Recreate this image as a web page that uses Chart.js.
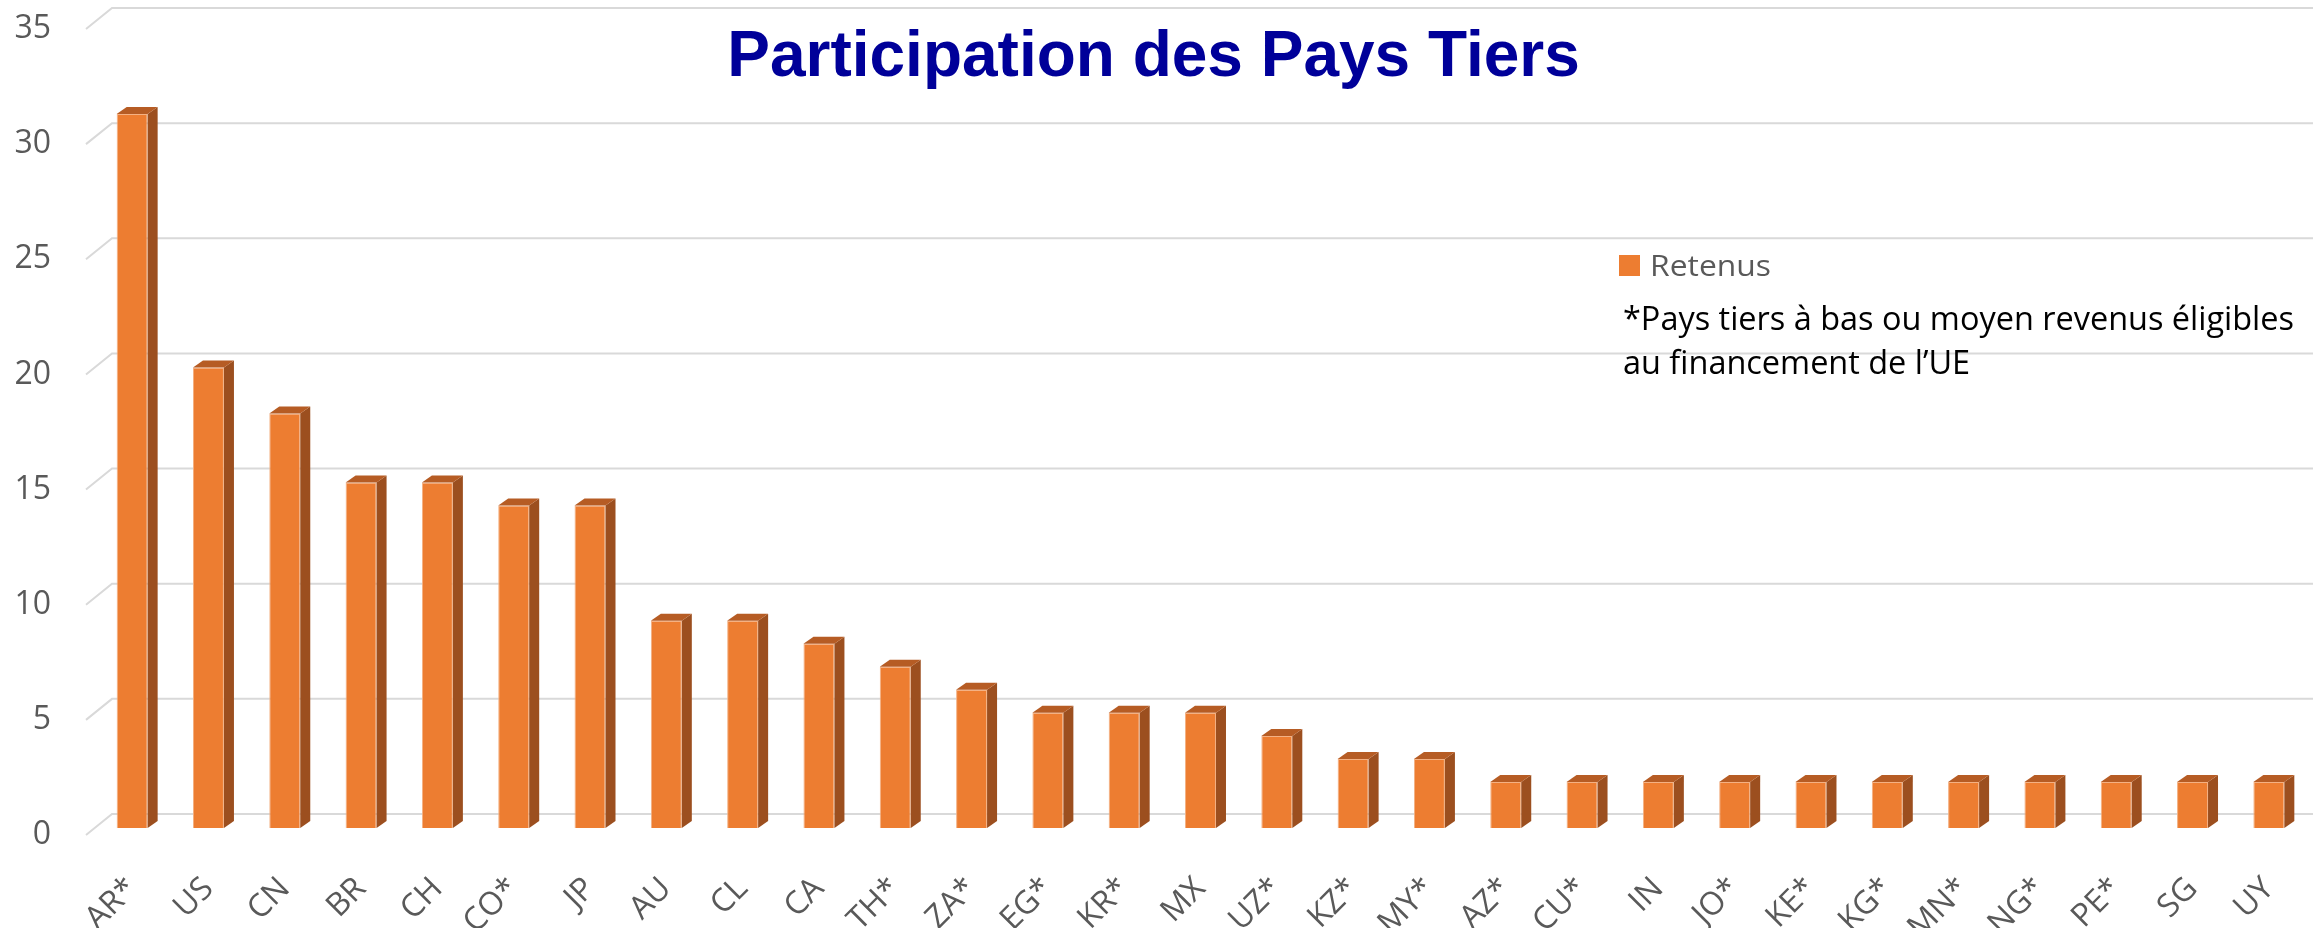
<!DOCTYPE html>
<html>
<head>
<meta charset="utf-8">
<script src="https://cdn.jsdelivr.net/npm/chart.js@4/dist/chart.umd.min.js"></script>
<style>
  body { margin: 0; background: #fff; }
</style>
</head>
<body>
<canvas id="paysChart" width="2313" height="928"></canvas>
<script>
// Données du graphique
const pays = ['AR*', 'US', 'CN', 'BR', 'CH', 'CO*', 'JP', 'AU', 'CL', 'CA', 'TH*', 'ZA*', 'EG*', 'KR*', 'MX',
    'UZ*', 'KZ*', 'MY*', 'AZ*', 'CU*', 'IN', 'JO*', 'KE*', 'KG*', 'MN*', 'NG*', 'PE*', 'SG', 'UY'];
const retenus = [31, 20, 18, 15, 15, 14, 14, 9, 9, 8, 7, 6, 5, 5, 5, 4, 3, 3, 2, 2, 2, 2, 2, 2, 2, 2, 2, 2, 2];
const yMax = 35;
const yStep = 5;
const titre = 'Participation des Pays Tiers';
const legende = 'Retenus';
const note = ['*Pays tiers à bas ou moyen revenus éligibles', 'au financement de l\u2019UE'];

const orange = '#ED7D31';

// Texte compressé horizontalement (rendu proche de Calibri)
function drawFitted(ctx, text, x, y, sx) {
    ctx.save();
    ctx.translate(x, y);
    ctx.scale(sx, 1);
    ctx.fillText(text, 0, 0);
    ctx.restore();
}

// Murs / quadrillage en perspective, derrière les barres
const wallPlugin = {
    id: 'wall',
    beforeDatasetsDraw(chart) {
        const ctx = chart.ctx;
        const y = chart.scales.y;
        ctx.save();
        ctx.strokeStyle = '#D9D9D9';
        ctx.lineWidth = 2;
        y.ticks.forEach(t => {
            const py = y.getPixelForValue(t.value);
            ctx.beginPath();
            ctx.moveTo(86, py + 7);
            ctx.lineTo(112, py - 14);
            ctx.lineTo(chart.width, py - 14);
            ctx.stroke();
        });
        ctx.restore();
    },
    afterDatasetsDraw(chart) {
        // faces supérieure et latérale des barres
        const ctx = chart.ctx;
        const dx = 10, dy = 7;
        ctx.save();
        chart.getDatasetMeta(0).data.forEach(bar => {
            const l = bar.x - bar.width / 2;
            const r = bar.x + bar.width / 2;
            const top = bar.y;
            const base = bar.base;
            ctx.fillStyle = '#9C4F1F';
            ctx.beginPath();
            ctx.moveTo(r, top);
            ctx.lineTo(r + dx, top - dy);
            ctx.lineTo(r + dx, base - dy);
            ctx.lineTo(r, base);
            ctx.closePath();
            ctx.fill();
            ctx.fillStyle = '#B65C24';
            ctx.beginPath();
            ctx.moveTo(l, top);
            ctx.lineTo(l + dx, top - dy);
            ctx.lineTo(r + dx, top - dy);
            ctx.lineTo(r, top);
            ctx.closePath();
            ctx.fill();
        });
        ctx.restore();
    },
    afterDraw(chart) {
        // légende + note
        const ctx = chart.ctx;
        ctx.save();
        ctx.fillStyle = orange;
        ctx.fillRect(1619, 255, 21, 21);
        ctx.textBaseline = 'alphabetic';
        ctx.textAlign = 'left';
        ctx.font = '29px "Open Sans"';
        ctx.fillStyle = '#595959';
        drawFitted(ctx, legende, 1650, 276, 121 / ctx.measureText(legende).width);
        ctx.font = '32px "Open Sans"';
        ctx.fillStyle = '#000000';
        const sx = 671 / ctx.measureText(note[0]).width;
        drawFitted(ctx, note[0], 1623, 330, sx);
        drawFitted(ctx, note[1], 1623, 374, sx);
        ctx.restore();
    }
};

const ctxChart = document.getElementById('paysChart').getContext('2d');
new Chart(ctxChart, {
    type: 'bar',
    data: {
        labels: pays,
        datasets: [{
            label: legende,
            data: retenus,
            backgroundColor: orange,
            borderColor: '#F4B183',
            borderWidth: 1,
            barPercentage: 0.406,
            categoryPercentage: 1
        }]
    },
    options: {
        responsive: false,
        animation: false,
        layout: {
            padding: { top: 0, right: 6, bottom: 0, left: 0 }
        },
        plugins: {
            legend: { display: false },
            tooltip: { enabled: false },
            title: {
                display: true,
                text: titre,
                color: '#000099',
                font: { family: '"Liberation Sans", Arial', size: 64, weight: 'bold', lineHeight: 1 },
                padding: { top: 26, bottom: -68 }
            }
        },
        scales: {
            x: {
                grid: { display: false, drawTicks: false },
                border: { display: false },
                ticks: {
                    color: '#595959',
                    font: { family: '"Open Sans"', size: 32 },
                    minRotation: 45,
                    maxRotation: 45,
                    autoSkip: false,
                    padding: 42
                },
                afterFit(scale) {
                    scale.height = 100;
                    scale.paddingLeft = 0;
                    scale.paddingRight = 0;
                }
            },
            y: {
                min: 0,
                max: yMax,
                grid: { display: false, drawTicks: false },
                border: { display: false },
                ticks: {
                    stepSize: yStep,
                    color: '#595959',
                    font: { family: '"Open Sans"', size: 32 },
                    padding: 43,
                    labelOffset: 7
                },
                afterFit(scale) {
                    scale.width = 94;
                    scale.paddingTop = 0;
                    scale.paddingBottom = 0;
                }
            }
        }
    },
    plugins: [wallPlugin]
});
</script>
</body>
</html>
